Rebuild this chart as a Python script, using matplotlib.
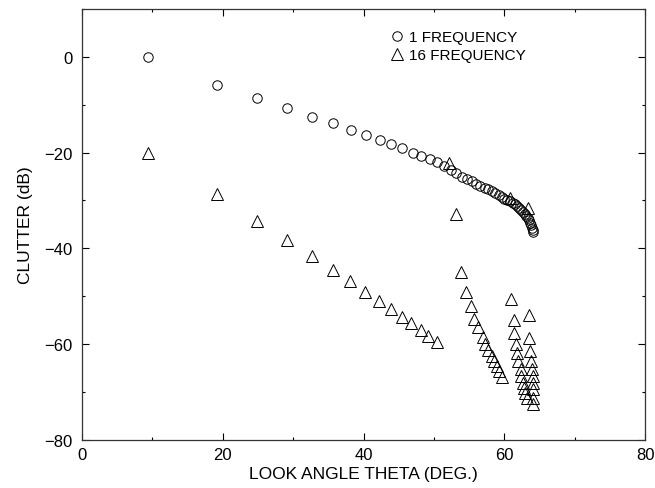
import matplotlib
matplotlib.use("Agg")
import matplotlib.pyplot as plt
from matplotlib.ticker import MultipleLocator

plt.rcParams['font.family'] = ['Liberation Sans', 'DejaVu Sans']

# 1 frequency (circles)
theta_1f = [9.4, 19.2, 24.9, 29.2, 32.7, 35.7, 38.2, 40.3, 42.3, 43.9, 45.5, 47.0,
            48.2, 49.4, 50.5, 51.5, 52.4, 53.2, 54.0, 54.7, 55.4, 56.0, 56.6, 57.2,
            57.7, 58.2, 58.7, 59.2, 59.6, 60.0, 60.4, 60.8, 61.2, 61.5, 61.8, 62.1,
            62.4, 62.7, 62.9, 63.1, 63.3, 63.5, 63.7, 63.8, 63.9, 64.0, 64.1]
clutter_1f = [0.0, -5.9, -8.7, -10.8, -12.5, -13.9, -15.2, -16.4, -17.4, -18.2, -19.1, -20.1,
              -20.7, -21.4, -22.0, -22.9, -23.7, -24.3, -25.0, -25.5, -26.0, -26.5, -26.9, -27.3,
              -27.7, -28.1, -28.5, -28.9, -29.2, -29.6, -29.9, -30.2, -30.5, -30.8, -31.1, -31.5,
              -31.9, -32.4, -32.8, -33.2, -33.6, -34.1, -34.7, -35.2, -35.7, -36.2, -36.6]

# 16 frequency (triangles), four branches
theta_16f = [9.4, 19.2, 24.9, 29.2, 32.7, 35.6, 38.1, 40.2, 42.2, 43.9, 45.4, 46.8, 48.1, 49.2, 50.4,
             52.2, 53.2, 53.8, 54.5, 55.2, 55.7, 56.3, 56.9, 57.3, 57.7, 58.2, 58.6, 58.9, 59.3, 59.7,
             60.8, 61.0, 61.3, 61.4, 61.7, 61.8, 62.0, 62.3, 62.4, 62.6, 62.8, 63.0, 63.2,
             63.4, 63.5, 63.5, 63.7, 63.8, 63.9, 64.0, 64.0, 64.0, 64.1, 64.1]
clutter_16f = [-20.1, -28.6, -34.2, -38.2, -41.5, -44.5, -46.9, -49.0, -50.9, -52.7, -54.3, -55.5, -57.0, -58.2, -59.5,
               -22.2, -32.9, -45.0, -49.2, -52.1, -54.7, -56.5, -58.4, -59.9, -61.2, -62.4, -63.5, -64.5, -65.5, -66.8,
               -29.5, -50.5, -54.9, -57.6, -59.9, -61.8, -63.5, -65.1, -66.6, -68.0, -69.1, -70.2, -71.2,
               -31.5, -54.0, -58.7, -61.4, -63.5, -65.2, -66.6, -68.0, -69.3, -71.2, -72.4]

fig = plt.figure(figsize=(6.55, 4.89), dpi=100)
ax = fig.add_axes([0.125, 0.098, 0.86, 0.882])

ax.plot(theta_1f, clutter_1f, linestyle='none', marker='o', markersize=6.8,
        markerfacecolor='none', markeredgecolor='black', markeredgewidth=0.7, label='1 FREQUENCY')
ax.plot(theta_16f, clutter_16f, linestyle='none', marker='^', markersize=8,
        markerfacecolor='none', markeredgecolor='black', markeredgewidth=0.7, label='16 FREQUENCY')

ax.set_xlim(0, 80)
ax.set_ylim(-80, 10)
ax.xaxis.set_major_locator(MultipleLocator(20))
ax.xaxis.set_minor_locator(MultipleLocator(10))
ax.yaxis.set_major_locator(MultipleLocator(20))
ax.yaxis.set_minor_locator(MultipleLocator(10))
ax.tick_params(which='both', direction='in', top=True, right=True, labelsize=12, width=0.8)
ax.tick_params(which='major', length=5)
ax.tick_params(which='minor', length=2.5)
ax.tick_params(axis='y', pad=7)
ax.tick_params(axis='x', pad=5)
for s in ax.spines.values():
    s.set_linewidth(0.9)
    s.set_color('#333333')

ax.set_xlabel('LOOK ANGLE THETA (DEG.)', fontsize=12.5, labelpad=3)
ax.set_ylabel('CLUTTER (dB)', fontsize=12.5, labelpad=8)

ax.legend(loc='upper left', bbox_to_anchor=(0.545, 0.95), frameon=False, numpoints=1,
          handlelength=1.0, handletextpad=0.3, borderaxespad=0, borderpad=0,
          labelspacing=0.25, fontsize=11)

plt.savefig('out.png', dpi=100)
